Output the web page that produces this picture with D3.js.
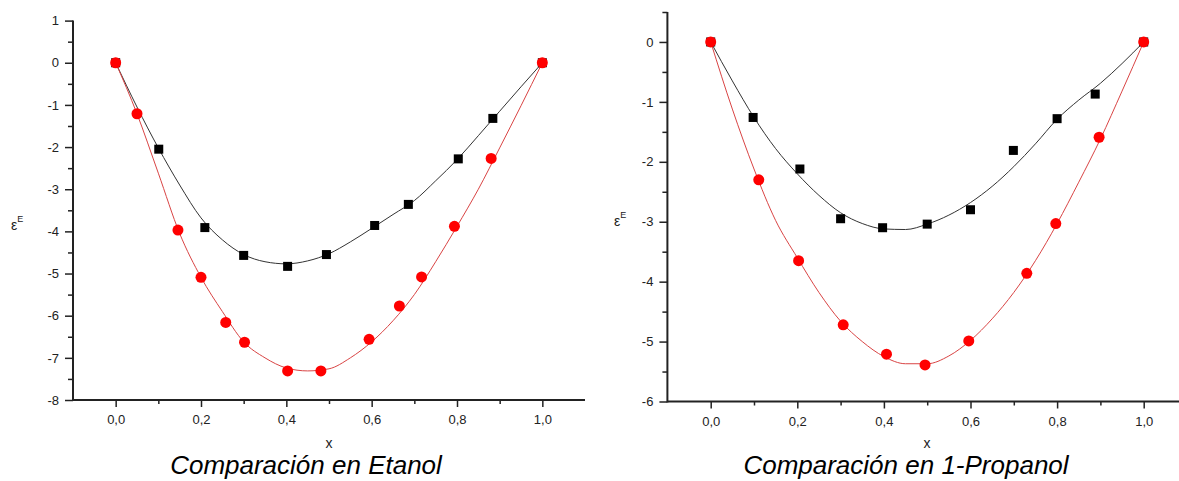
<!DOCTYPE html>
<html>
<head>
<meta charset="utf-8">
<script src="https://cdn.jsdelivr.net/npm/d3@7"></script>
<style>
  body { margin: 0; background: #fff; }
  text { font-family: "Liberation Sans", Arial, sans-serif; }
</style>
</head>
<body>
<svg width="1179" height="481"></svg>
<script>
'use strict';

// Etanol: measured points
const etanolBlackX = [0, 0.101, 0.209, 0.30, 0.403, 0.494, 0.607, 0.686, 0.803, 0.884, 1.0];
const etanolBlackY = [0, -2.05, -3.91, -4.57, -4.83, -4.55, -3.86, -3.36, -2.28, -1.32, 0];
const etanolRedX = [0, 0.05, 0.146, 0.20, 0.258, 0.302, 0.403, 0.481, 0.594, 0.665, 0.717, 0.794, 0.88, 1.0];
const etanolRedY = [0, -1.21, -3.97, -5.09, -6.16, -6.63, -7.31, -7.31, -6.56, -5.77, -5.08, -3.88, -2.27, 0];

// 1-Propanol: measured points
const propBlackX = [0, 0.098, 0.206, 0.30, 0.397, 0.50, 0.60, 0.699, 0.80, 0.888, 1.0];
const propBlackY = [0, -1.26, -2.12, -2.95, -3.10, -3.04, -2.80, -1.81, -1.28, -0.87, 0];
const propRedX = [0, 0.111, 0.203, 0.306, 0.406, 0.495, 0.596, 0.73, 0.797, 0.897, 1.0];
const propRedY = [0, -2.30, -3.65, -4.72, -5.21, -5.39, -4.99, -3.86, -3.03, -1.59, 0];

// fitted curves
const fitX = [0, 0.05, 0.1, 0.15, 0.2, 0.25, 0.3, 0.35, 0.4, 0.45, 0.5, 0.55, 0.6, 0.65, 0.7, 0.75, 0.8, 0.85, 0.9, 0.95, 1.0];
const etanolBlackFit = [0, -1.05, -2.02, -2.9, -3.68, -4.2, -4.55, -4.72, -4.77, -4.7, -4.53, -4.25, -3.93, -3.6, -3.27, -2.8, -2.3, -1.73, -1.15, -0.57, 0];
const etanolRedFit = [0, -1.21, -2.62, -4.05, -5.09, -5.9, -6.62, -7.0, -7.24, -7.31, -7.26, -7.0, -6.62, -6.12, -5.5, -4.72, -3.88, -3.0, -2.02, -1.02, 0];
const propBlackFit = [0, -0.65, -1.26, -1.78, -2.2, -2.56, -2.85, -3.03, -3.12, -3.13, -3.04, -2.89, -2.68, -2.41, -2.08, -1.7, -1.29, -0.97, -0.69, -0.36, 0];
const propRedFit = [0, -1.12, -2.12, -2.98, -3.6, -4.18, -4.66, -5.0, -5.25, -5.37, -5.37, -5.24, -4.98, -4.62, -4.18, -3.65, -3.03, -2.34, -1.62, -0.82, 0];

const xTicks = [0, 0.2, 0.4, 0.6, 0.8, 1.0];
const xMinorTicks = [0.1, 0.3, 0.5, 0.7, 0.9];

const locale = d3.formatLocale({decimal: ",", thousands: ".", grouping: [3], currency: ["", ""], minus: "-"});
const fmtX = locale.format(".1f");
const fmtY = locale.format("d");

const svg = d3.select("svg");

function drawPanel(cfg) {
  const x = d3.scaleLinear().domain([-0.1, 1.1]).range(cfg.xRange);
  const y = d3.scaleLinear().domain(cfg.yDomain).range(cfg.yRange);
  const g = svg.append("g");

  const yMajor = d3.range(cfg.yDomain[0], cfg.yDomain[1] + 0.001, 1);
  const yMinor = d3.range(cfg.yDomain[0] + 0.5, cfg.yDomain[1] + 0.001, 1);

  // minor ticks
  g.append("g")
    .attr("transform", `translate(0,${cfg.yRange[0]})`)
    .call(d3.axisBottom(x).tickValues(xMinorTicks).tickSize(4).tickFormat(""))
    .call(a => a.select(".domain").remove());
  g.append("g")
    .attr("transform", `translate(${cfg.xRange[0]},0)`)
    .call(d3.axisLeft(y).tickValues(yMinor).tickSize(5).tickFormat(""))
    .call(a => a.select(".domain").remove());

  // major ticks
  const xa = g.append("g")
    .attr("transform", `translate(0,${cfg.yRange[0]})`)
    .call(d3.axisBottom(x).tickValues(xTicks).tickSize(7).tickPadding(8).tickFormat(fmtX));
  const ya = g.append("g")
    .attr("transform", `translate(${cfg.xRange[0]},0)`)
    .call(d3.axisLeft(y).tickValues(yMajor).tickSize(8).tickPadding(6).tickFormat(fmtY));

  [xa, ya].forEach(a => {
    a.select(".domain").remove();
    a.selectAll("text").attr("font-size", 13).attr("fill", "#222");
  });
  g.selectAll(".tick line").attr("stroke", "#222").attr("stroke-width", 1.5);

  // axis lines
  g.append("line")
    .attr("x1", cfg.xRange[0]).attr("x2", cfg.xRange[1])
    .attr("y1", cfg.yRange[0]).attr("y2", cfg.yRange[0])
    .attr("stroke", "#222").attr("stroke-width", 2);
  g.append("line")
    .attr("x1", cfg.xRange[0]).attr("x2", cfg.xRange[0])
    .attr("y1", cfg.yRange[0] + 1).attr("y2", cfg.yRange[1])
    .attr("stroke", "#222").attr("stroke-width", 2);

  const line = d3.line()
    .x(d => x(d[0])).y(d => y(d[1]))
    .curve(d3.curveMonotoneX);

  g.append("path")
    .attr("d", line(d3.zip(fitX, cfg.blackFit)))
    .attr("fill", "none").attr("stroke", "#333").attr("stroke-width", 1);
  g.append("path")
    .attr("d", line(d3.zip(fitX, cfg.redFit)))
    .attr("fill", "none").attr("stroke", "#d94444").attr("stroke-width", 1);

  g.selectAll(".sq").data(d3.zip(cfg.blackX, cfg.blackY)).join("rect")
    .attr("x", d => x(d[0]) - 4.5).attr("y", d => y(d[1]) - 4.5)
    .attr("width", 9).attr("height", 9).attr("fill", "#000");
  g.selectAll(".dot").data(d3.zip(cfg.redX, cfg.redY)).join("circle")
    .attr("cx", d => x(d[0])).attr("cy", d => y(d[1]))
    .attr("r", 5.5).attr("fill", "#f00");

  // labels
  const yl = g.append("text")
    .attr("x", cfg.yLabelPos[0]).attr("y", cfg.yLabelPos[1])
    .attr("font-size", 14).attr("fill", "#222");
  yl.append("tspan").text("ε");
  yl.append("tspan").attr("font-size", 9).attr("dy", -8).text("E");

  g.append("text")
    .attr("x", cfg.xLabelPos[0]).attr("y", cfg.xLabelPos[1])
    .attr("text-anchor", "middle").attr("font-size", 14).attr("fill", "#222")
    .text("x");

  g.append("text")
    .attr("x", cfg.titlePos[0]).attr("y", cfg.titlePos[1])
    .attr("text-anchor", "middle").attr("font-size", 26)
    .attr("font-style", "italic").attr("fill", "#000")
    .text(cfg.title);
}

drawPanel({
  xRange: [73, 585], yDomain: [-8, 1], yRange: [400, 20.6],
  blackX: etanolBlackX, blackY: etanolBlackY, redX: etanolRedX, redY: etanolRedY,
  blackFit: etanolBlackFit, redFit: etanolRedFit,
  yLabelPos: [11, 230], xLabelPos: [329, 448], titlePos: [306, 474],
  title: "Comparación en Etanol"
});

drawPanel({
  xRange: [667.4, 1187], yDomain: [-6, 0.5], yRange: [401.5, 12],
  blackX: propBlackX, blackY: propBlackY, redX: propRedX, redY: propRedY,
  blackFit: propBlackFit, redFit: propRedFit,
  yLabelPos: [614, 226], xLabelPos: [927, 448], titlePos: [906, 474],
  title: "Comparación en 1-Propanol"
});
</script>
</body>
</html>
